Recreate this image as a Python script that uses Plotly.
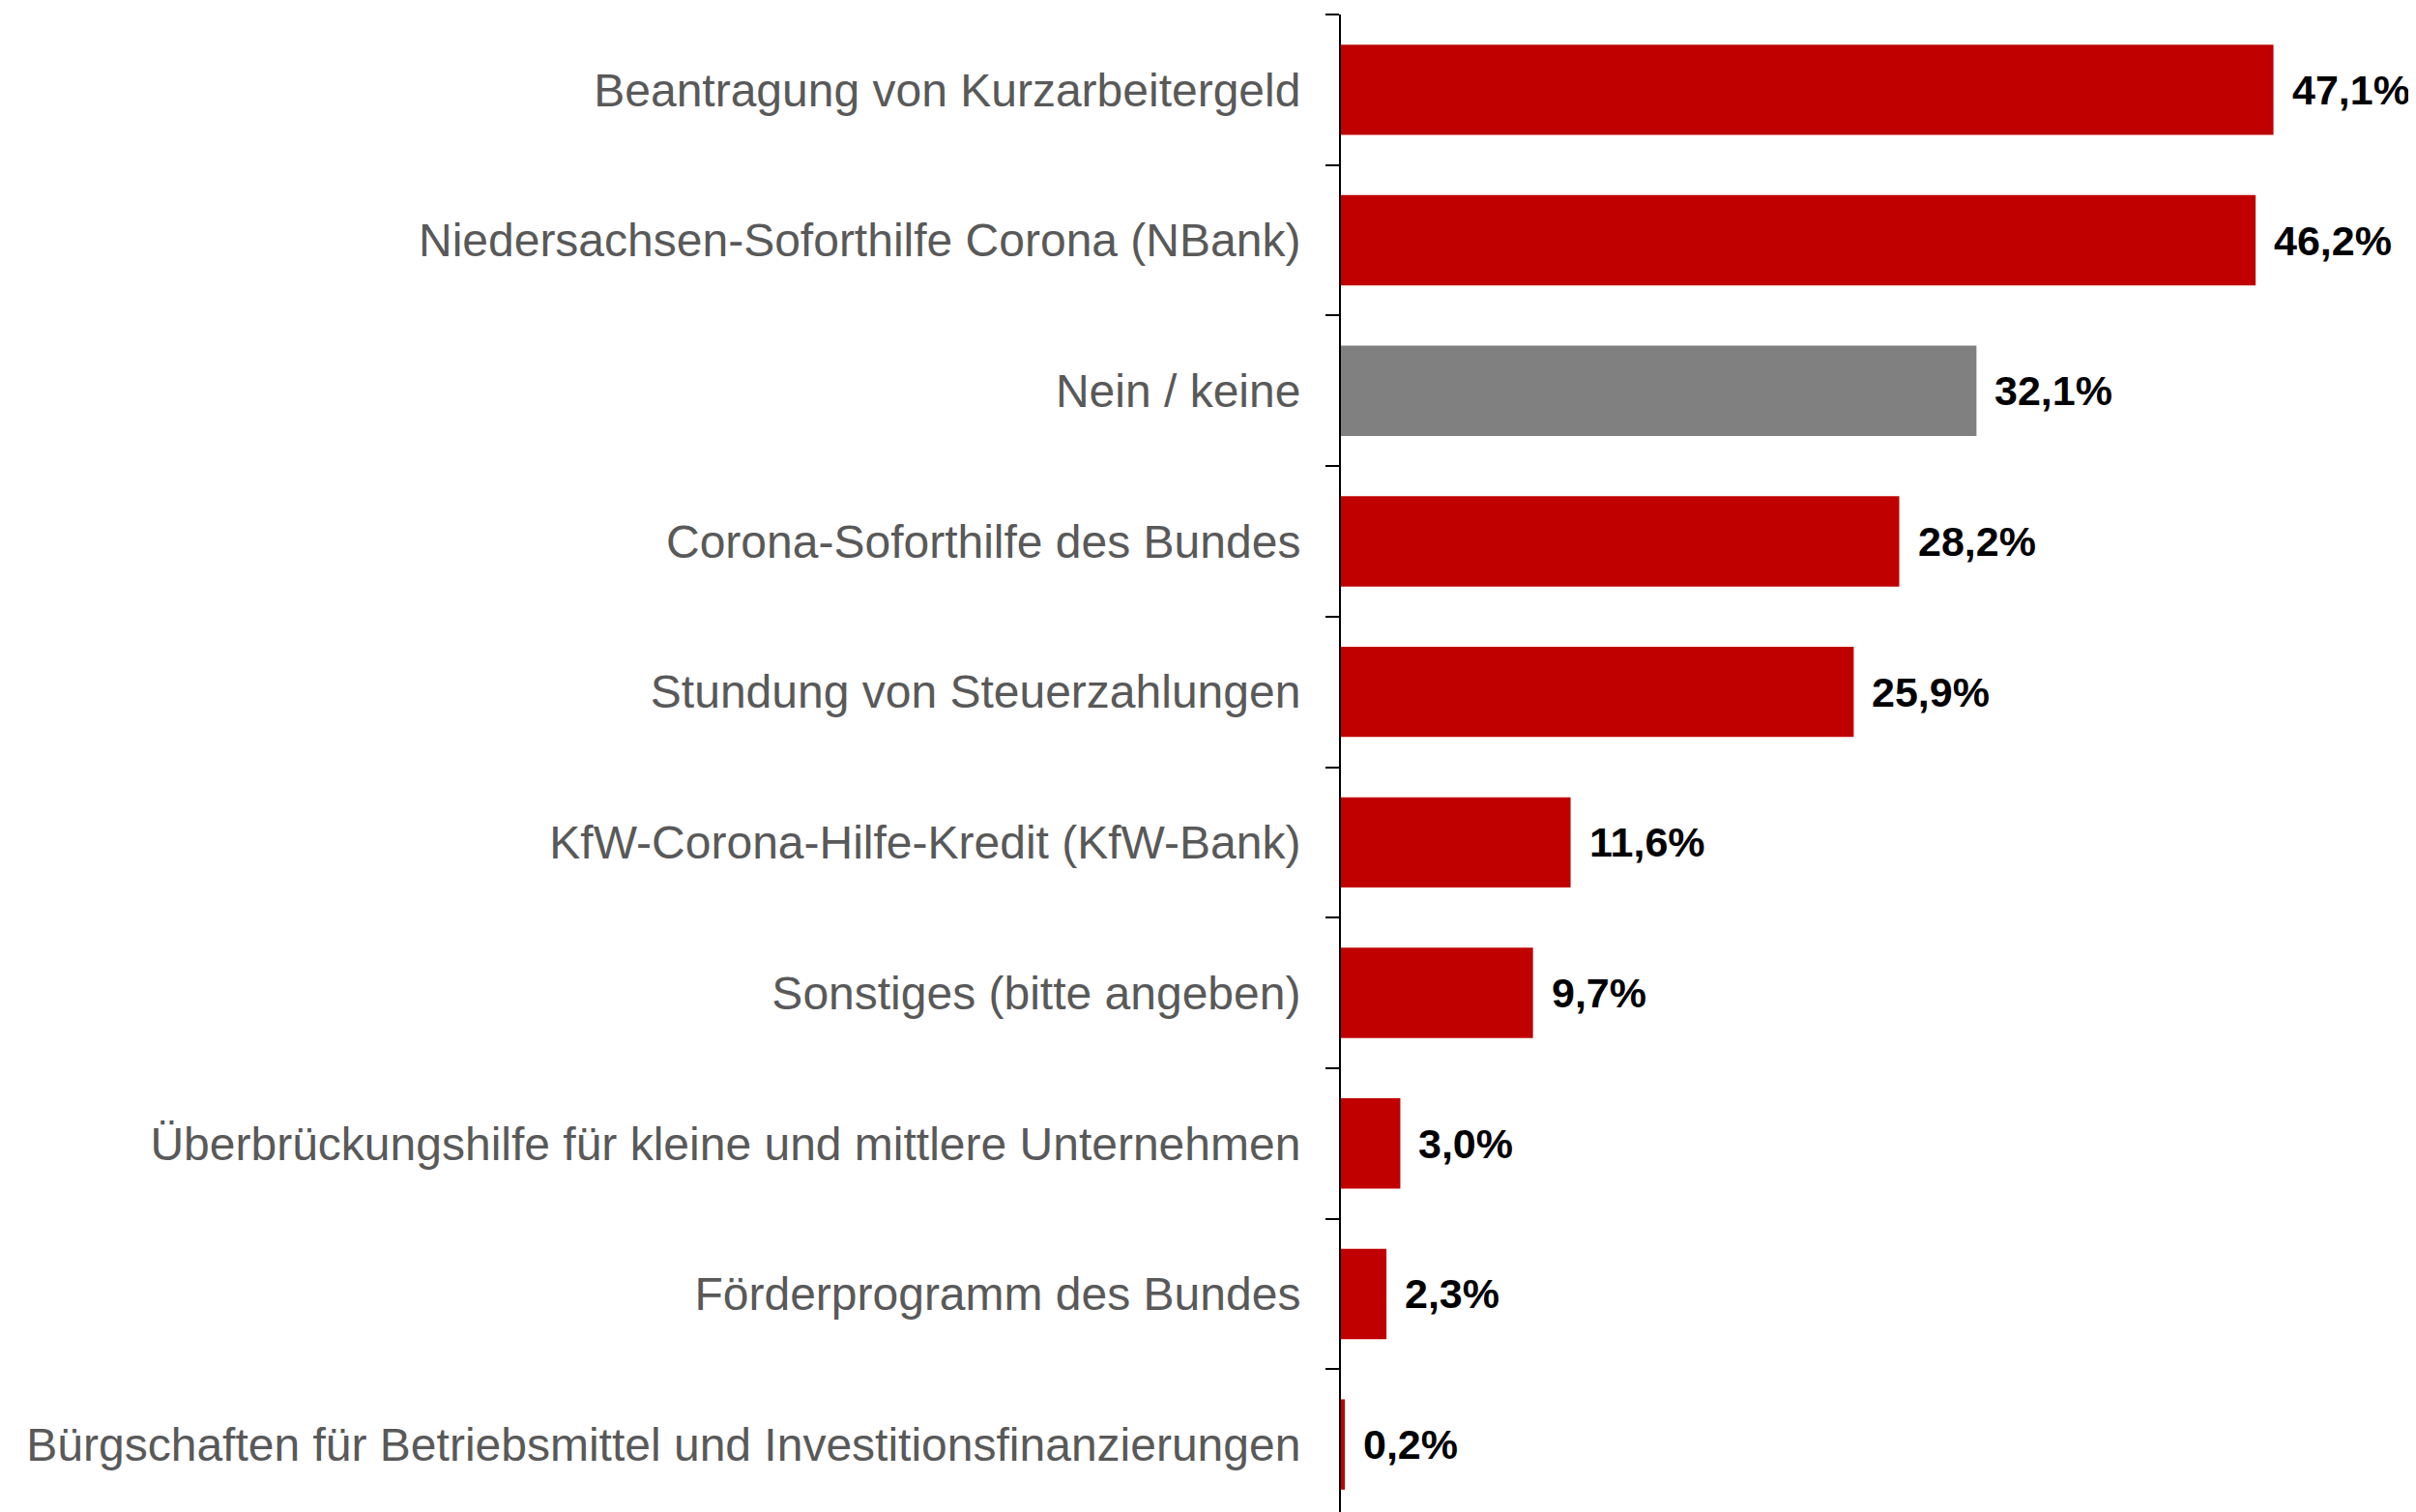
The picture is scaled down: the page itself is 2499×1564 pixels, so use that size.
import plotly.graph_objects as go

# categories top to bottom
categories = [
    "Beantragung von Kurzarbeitergeld",
    "Niedersachsen-Soforthilfe Corona (NBank)",
    "Nein / keine",
    "Corona-Soforthilfe des Bundes",
    "Stundung von Steuerzahlungen",
    "KfW-Corona-Hilfe-Kredit (KfW-Bank)",
    "Sonstiges (bitte angeben)",
    "Überbrückungshilfe für kleine und mittlere Unternehmen",
    "Förderprogramm des Bundes",
    "Bürgschaften für Betriebsmittel und Investitionsfinanzierungen",
]
values = [47.1, 46.2, 32.1, 28.2, 25.9, 11.6, 9.7, 3.0, 2.3, 0.2]
bar_colors = ["#C00000", "#C00000", "#808080", "#C00000", "#C00000",
              "#C00000", "#C00000", "#C00000", "#C00000", "#C00000"]

labels = [f"{v:.1f}%".replace(".", ",") for v in values]

fig = go.Figure()
fig.add_trace(go.Bar(
    x=values, y=categories, orientation="h",
    marker=dict(color=bar_colors, line=dict(width=0)),
    width=0.6,
    hoverinfo="skip",
))

# value labels next to the bars
for cat, v, lab in zip(categories, values, labels):
    fig.add_annotation(
        x=v, y=cat, text=f"<b>{lab}</b>", showarrow=False,
        xanchor="left", yanchor="middle", xshift=17,
        font=dict(family="Liberation Sans, Arial", size=43, color="black"),
    )

# page body adds an 8px offset, so margins are trimmed by 8
fig.update_layout(
    width=2499, height=1564,
    margin=dict(l=1379, r=0, t=7, b=0),
    plot_bgcolor="white", paper_bgcolor="white",
    showlegend=False,
    font=dict(family="Liberation Sans, Arial"),
)
fig.update_xaxes(range=[0, 54.69], visible=False)
fig.update_yaxes(
    type="category",
    categoryorder="array", categoryarray=categories,
    range=[9.5, -0.5],
    showline=True, linecolor="black", linewidth=2,
    ticks="outside", ticklen=14, tickwidth=2, tickcolor="black",
    tickson="boundaries",
    ticklabelstandoff=30,
    showgrid=False, zeroline=False,
    tickfont=dict(family="Liberation Sans, Arial", size=48, color="#595959"),
)

fig.write_html("out.html")
